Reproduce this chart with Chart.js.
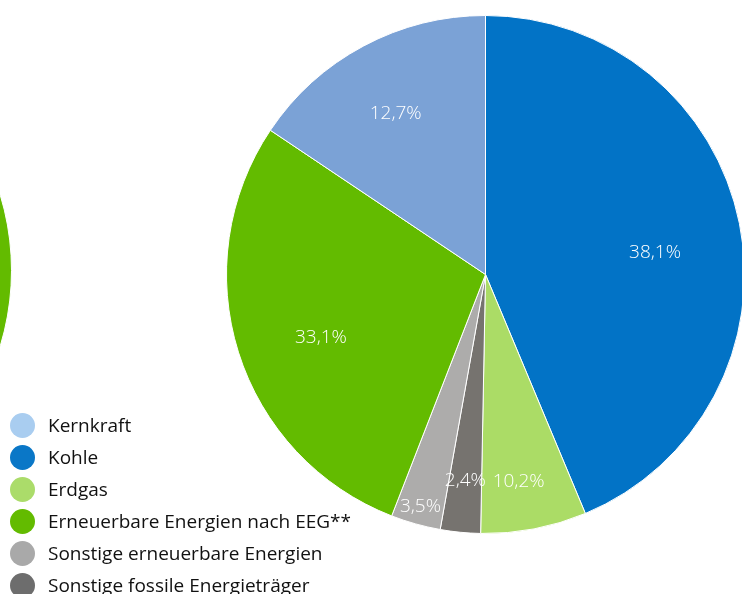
<!DOCTYPE html>
<html>
<head>
<meta charset="utf-8">
<script src="https://cdn.jsdelivr.net/npm/chart.js@4/dist/chart.umd.min.js"></script>
<style>
  html, body { margin: 0; padding: 0; background: #fff; }
  body { width: 742px; height: 594px; position: relative; overflow: hidden; font-family: 'Open Sans', 'Noto Sans', sans-serif; }
  #mainWrap { position: absolute; left: 226px; top: 15px; width: 519px; height: 519px; }
  #leftWrap { position: absolute; left: -507px; top: 11px; width: 519px; height: 519px; }
  #legend { position: absolute; left: 10px; top: 409px; }
  .item { display: flex; align-items: center; height: 32px; font-size: 19px; color: #111; }
  .dot { width: 25px; height: 25px; border-radius: 50%; margin-right: 13px; }
</style>
</head>
<body>
<div id="leftWrap"><canvas id="leftPie" width="519" height="519"></canvas></div>
<div id="mainWrap"><canvas id="mainPie" width="519" height="519"></canvas></div>
<div id="legend"></div>
<script>
// slice order, clockwise from 12 o'clock
const categories = ['Kohle', 'Erdgas', 'Sonstige fossile Energieträger', 'Sonstige erneuerbare Energien', 'Erneuerbare Energien nach EEG**', 'Kernkraft'];
// slice sizes as drawn
const shares = [43.7, 6.6, 2.5, 3.1, 28.5, 15.6];
// percentages printed on the slices
const printedShares = ['38,1%', '10,2%', '2,4%', '3,5%', '33,1%', '12,7%'];
const sliceColors = ['#0273c6', '#abdc66', '#76736f', '#adacab', '#63bb00', '#7ba2d6'];

// second pie, almost entirely off the left edge; only its green part shows
const leftPieShares = [42.0, 9.5, 2.5, 3.5, 30.0, 12.5];

// legend
const legendLabels = ['Kernkraft', 'Kohle', 'Erdgas', 'Erneuerbare Energien nach EEG**', 'Sonstige erneuerbare Energien', 'Sonstige fossile Energieträger'];
const legendColors = ['#a9cdf0', '#0a77c7', '#abdc6a', '#63bb00', '#a9a9a9', '#6d6d6d'];

const legendEl = document.getElementById('legend');
legendLabels.forEach((name, i) => {
  const row = document.createElement('div');
  row.className = 'item';
  row.innerHTML = '<span class="dot" style="background:' + legendColors[i] + '"></span><span>' + name + '</span>';
  legendEl.appendChild(row);
});

// draws the printed percentages inside the slices
const sliceLabels = {
  id: 'sliceLabels',
  afterDatasetsDraw(chart, args, opts) {
    if (!opts.texts) return;
    const ctx = chart.ctx;
    const arcs = chart.getDatasetMeta(0).data;
    ctx.save();
    ctx.fillStyle = '#ffffff';
    ctx.font = '300 19px "Open Sans", "Noto Sans", sans-serif';
    ctx.textAlign = 'center';
    ctx.textBaseline = 'middle';
    arcs.forEach((arc, i) => {
      const p = arc.getProps(['x', 'y', 'startAngle', 'endAngle', 'outerRadius'], true);
      const mid = (p.startAngle + p.endAngle) / 2 + (opts.angleShift[i] || 0);
      const r = p.outerRadius * opts.radius[i];
      ctx.fillText(opts.texts[i], p.x + Math.cos(mid) * r, p.y + Math.sin(mid) * r);
    });
    ctx.restore();
  }
};

new Chart(document.getElementById('mainPie'), {
  type: 'pie',
  data: {
    labels: categories,
    datasets: [{
      data: shares,
      backgroundColor: sliceColors,
      borderColor: '#ffffff',
      borderWidth: 1
    }]
  },
  options: {
    responsive: false,
    animation: false,
    layout: { padding: 0 },
    plugins: {
      legend: { display: false },
      tooltip: { enabled: false },
      sliceLabels: {
        texts: printedShares,
        radius: [0.66, 0.81, 0.80, 0.93, 0.68, 0.71],
        angleShift: [0.07, 0.03, 0, 0, -0.06, -0.02]
      }
    }
  },
  plugins: [sliceLabels]
});

// rotate the left pie so that its EEG slice faces right
const eegStart = leftPieShares.slice(0, 4).reduce((a, b) => a + b, 0);
const leftTotal = leftPieShares.reduce((a, b) => a + b, 0);
const eegMidDeg = (eegStart + leftPieShares[4] / 2) / leftTotal * 360;

new Chart(document.getElementById('leftPie'), {
  type: 'pie',
  data: {
    labels: categories,
    datasets: [{
      data: leftPieShares,
      backgroundColor: sliceColors,
      borderColor: '#ffffff',
      borderWidth: 1
    }]
  },
  options: {
    responsive: false,
    animation: false,
    rotation: 90 - eegMidDeg,
    plugins: {
      legend: { display: false },
      tooltip: { enabled: false }
    }
  }
});
</script>
</body>
</html>
